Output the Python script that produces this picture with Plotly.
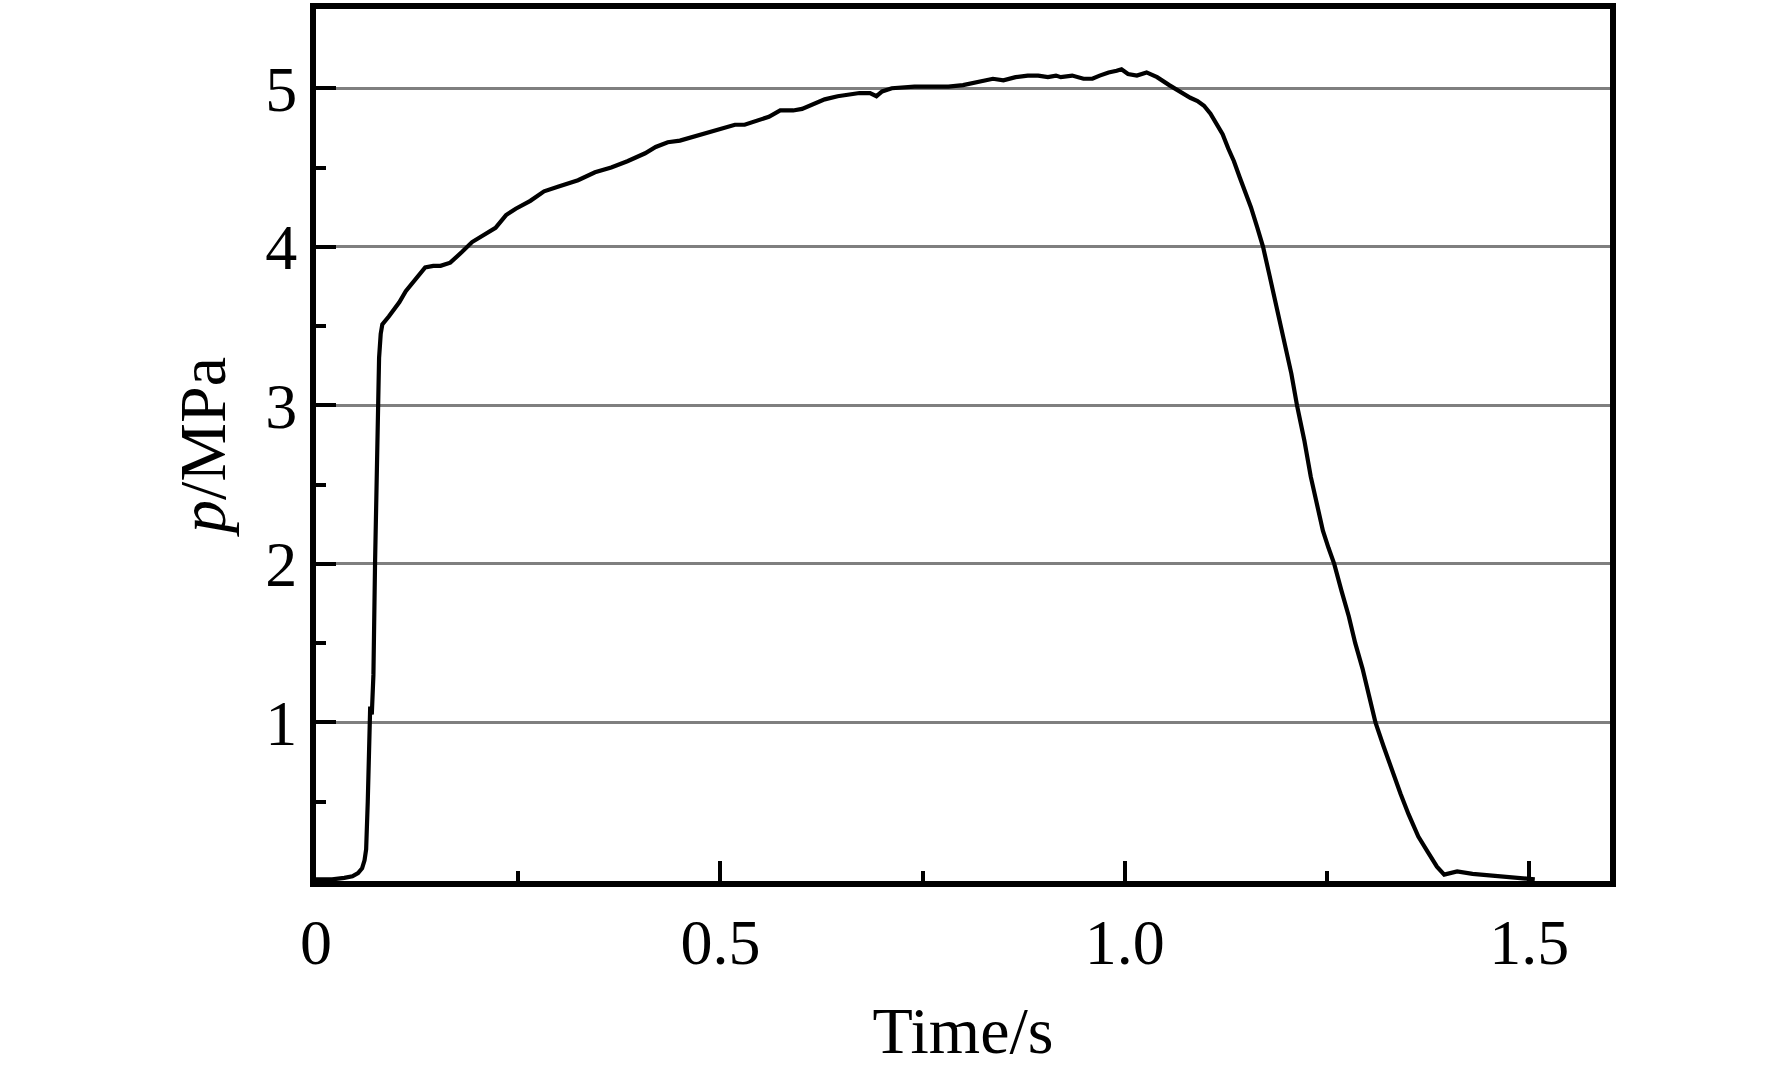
import plotly.graph_objects as go

time_s = [0, 0.02, 0.035, 0.045, 0.052, 0.057, 0.060, 0.062, 0.064, 0.066, 0.067, 0.069, 0.071,
          0.073, 0.075, 0.076, 0.078, 0.080, 0.082,
          0.09, 0.103, 0.111, 0.119, 0.128, 0.135, 0.145, 0.154, 0.166, 0.175, 0.181, 0.193,
          0.209, 0.222, 0.235, 0.247, 0.265, 0.282, 0.30, 0.324, 0.345, 0.365, 0.385, 0.407,
          0.42, 0.435, 0.45, 0.463, 0.475, 0.49, 0.505, 0.518, 0.53, 0.546, 0.56, 0.574, 0.59,
          0.601, 0.615, 0.629, 0.645, 0.657, 0.672, 0.685, 0.693, 0.70, 0.712, 0.74, 0.76,
          0.782, 0.80, 0.81, 0.825, 0.837, 0.85, 0.865, 0.88, 0.893, 0.905, 0.915, 0.921,
          0.935, 0.949, 0.96, 0.969, 0.98, 0.99, 0.996, 1.004, 1.015, 1.027, 1.04, 1.055,
          1.07, 1.081, 1.090, 1.098, 1.106, 1.113, 1.121, 1.128, 1.135, 1.142, 1.149, 1.156,
          1.164, 1.171, 1.179, 1.187, 1.193, 1.199, 1.206, 1.213, 1.222, 1.230, 1.237,
          1.245, 1.252, 1.259, 1.268, 1.277, 1.285, 1.294, 1.302, 1.310, 1.320, 1.331,
          1.341, 1.351, 1.363, 1.375, 1.386, 1.395, 1.402, 1.411, 1.43, 1.458, 1.48, 1.507]
pressure_mpa = [0.01, 0.01, 0.02, 0.03, 0.05, 0.08, 0.13, 0.2, 0.5, 0.95, 1.1, 1.05, 1.3,
                2.0, 2.7, 3.0, 3.3, 3.45, 3.51,
                3.56, 3.65, 3.72, 3.77, 3.82, 3.87, 3.88, 3.88, 3.90, 3.94, 3.97, 4.03,
                4.08, 4.12, 4.2, 4.24, 4.29, 4.35, 4.38, 4.42, 4.47, 4.5, 4.54, 4.59,
                4.63, 4.66, 4.67, 4.69, 4.71, 4.73, 4.75, 4.77, 4.77, 4.80, 4.82, 4.86, 4.86,
                4.87, 4.90, 4.93, 4.95, 4.96, 4.97, 4.97, 4.95, 4.98, 5.0, 5.01, 5.01,
                5.01, 5.02, 5.03, 5.05, 5.06, 5.05, 5.07, 5.08, 5.08, 5.07, 5.08, 5.07,
                5.08, 5.06, 5.06, 5.08, 5.10, 5.11, 5.12, 5.09, 5.08, 5.10, 5.07, 5.02,
                4.97, 4.94, 4.92, 4.89, 4.84, 4.78, 4.71, 4.62, 4.54, 4.44, 4.35, 4.25,
                4.12, 4.0, 3.82, 3.64, 3.5, 3.37, 3.2, 3.0, 2.78, 2.55, 2.38,
                2.21, 2.1, 2.0, 1.83, 1.67, 1.5, 1.34, 1.17, 1.0, 0.85, 0.69,
                0.55, 0.42, 0.28, 0.18, 0.09, 0.04, 0.05, 0.06, 0.045, 0.03, 0.02, 0.01]

x_tickvals = [0, 0.5, 1.0, 1.5]
x_ticktext = ["0", "0.5", "1.0", "1.5"]
y_tickvals = [1, 2, 3, 4, 5]
y_ticktext = ["1", "2", "3", "4", "5"]

FONT = "Liberation Serif"

fig = go.Figure()
fig.add_trace(go.Scatter(x=time_s, y=pressure_mpa, mode="lines",
                         line=dict(color="black", width=4.2), showlegend=False))

fig.update_layout(
    width=1772, height=1072,
    margin=dict(l=316, r=162, t=3, b=191),
    paper_bgcolor="white", plot_bgcolor="white",
    font=dict(family=FONT, size=64, color="black"),
)
fig.update_xaxes(
    range=[0, 1.6], tickvals=x_tickvals, ticktext=x_ticktext,
    ticks="inside", ticklen=20, tickwidth=4, tickcolor="black",
    minor=dict(dtick=0.25, tick0=0, ticks="inside", ticklen=10, tickwidth=4, tickcolor="black", showgrid=False),
    showline=True, linewidth=6, linecolor="black", mirror=True,
    showgrid=False, zeroline=False,
    tickfont=dict(family=FONT, size=64), ticklabelstandoff=0,
    title=dict(text="Time/s", font=dict(family=FONT, size=66), standoff=32),
)
fig.update_yaxes(
    range=[0, 5.5], tickvals=y_tickvals, ticktext=y_ticktext,
    ticks="inside", ticklen=20, tickwidth=4, tickcolor="black",
    minor=dict(dtick=0.5, tick0=0, ticks="inside", ticklen=10, tickwidth=4, tickcolor="black", showgrid=False),
    showline=True, linewidth=6, linecolor="black", mirror=True,
    showgrid=True, gridcolor="#7f7f7f", gridwidth=2.5, zeroline=False,
    tickfont=dict(family=FONT, size=64), ticklabelstandoff=0,
    title=dict(text="<i>p</i>/MPa", font=dict(family=FONT, size=66), standoff=20),
)

fig.write_html("out.html", config={"displayModeBar": False},
               post_script="document.body.style.margin='0';")
